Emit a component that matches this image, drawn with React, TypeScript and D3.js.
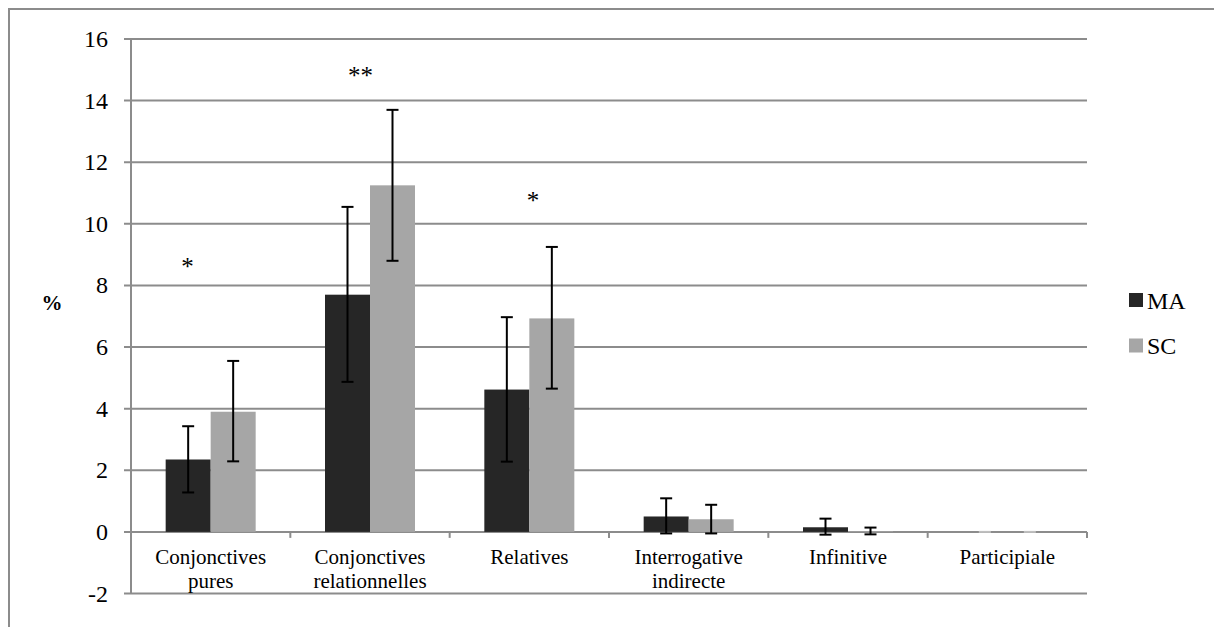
import React from 'react';
import * as d3 from 'd3';

const categories = [
  ['Conjonctives', 'pures'],
  ['Conjonctives', 'relationnelles'],
  ['Relatives'],
  ['Interrogative', 'indirecte'],
  ['Infinitive'],
  ['Participiale'],
];
const seriesNames = ['MA', 'SC'];
const maValues = [2.35, 7.7, 4.62, 0.5, 0.15, 0];
const scValues = [3.9, 11.25, 6.93, 0.41, 0.02, 0];
const maLow = [1.28, 4.87, 2.28, -0.05, -0.09, 0];
const maHigh = [3.43, 10.55, 6.97, 1.09, 0.43, 0];
const scLow = [2.29, 8.8, 4.65, -0.05, -0.08, 0];
const scHigh = [5.55, 13.7, 9.25, 0.88, 0.14, 0];
// significance marks, level in % and offset from group centre (fraction of band)
const stars = ['*', '**', '*', '', '', ''];
const starLevels = [8.73, 14.93, 10.88, 0, 0, 0];
const starOffsets = [-0.145, -0.06, 0.023, 0, 0, 0];
const yTicks = [-2, 0, 2, 4, 6, 8, 10, 12, 14, 16];
const colors = ['#262626', '#a6a6a6'];

const W = 1214;
const H = 627;
const left = 131;
const right = 1087;
const font = "'Liberation Serif', 'DejaVu Serif', serif";
const grid = '#8c8c8c';

export default function App() {
  const y = d3.scaleLinear().domain([-2, 16]).range([593.5, 39]);
  const x = d3.scaleBand<number>().domain(d3.range(categories.length)).range([left, right]);
  const inner = d3.scaleBand<number>().domain([0, 1]).range([0, 90]);
  const groupOff = (x.bandwidth() - 90) / 2;
  const series = [
    { vals: maValues, lo: maLow, hi: maHigh },
    { vals: scValues, lo: scLow, hi: scHigh },
  ];
  const y0 = y(0);

  return (
    <svg
      width={W}
      height={H}
      style={{ position: 'absolute', left: 0, top: 0, background: '#fff' }}
      fontFamily={font}
    >
      <rect x={9} y={9} width={W + 10} height={H + 10} fill="none" stroke={grid} strokeWidth={2} />
      {yTicks.map((t) => (
        <g key={t}>
          <line x1={124} x2={right} y1={y(t)} y2={y(t)} stroke={grid} strokeWidth={2} />
          <text x={108} y={y(t) + 8} textAnchor="end" fontSize={24}>
            {t}
          </text>
        </g>
      ))}
      <line x1={left} x2={left} y1={y(16)} y2={y(-2)} stroke={grid} strokeWidth={2} />
      {d3.range(categories.length + 1).map((i) => {
        const xx = i < categories.length ? x(i)! : right;
        return <line key={i} x1={xx} x2={xx} y1={y0} y2={y0 + 6} stroke={grid} strokeWidth={2} />;
      })}
      {categories.map((c, i) => {
        const bx = x(i)! + groupOff;
        const mid = x(i)! + x.bandwidth() / 2;
        return (
          <g key={i}>
            {series.map((s, k) => {
              const v = s.vals[i];
              const xx = bx + inner(k)!;
              const w = inner.bandwidth();
              const cx = xx + w / 2;
              return (
                <g key={k}>
                  {v > 0 ? (
                    <rect x={xx} y={y(v)} width={w} height={y0 - y(v)} fill={colors[k]} />
                  ) : (
                    <line x1={cx - 6} x2={cx + 6} y1={y0} y2={y0} stroke="#bfbfbf" strokeWidth={2} />
                  )}
                  {s.hi[i] !== s.lo[i] && (
                    <g stroke="#000" strokeWidth={2}>
                      <line x1={cx} x2={cx} y1={y(s.lo[i])} y2={y(s.hi[i])} />
                      <line x1={cx - 6} x2={cx + 6} y1={y(s.lo[i])} y2={y(s.lo[i])} />
                      <line x1={cx - 6} x2={cx + 6} y1={y(s.hi[i])} y2={y(s.hi[i])} />
                    </g>
                  )}
                </g>
              );
            })}
            {stars[i] && (
              <text
                x={mid + starOffsets[i] * x.bandwidth()}
                y={y(starLevels[i]) + 12}
                textAnchor="middle"
                fontSize={25}
              >
                {stars[i]}
              </text>
            )}
            {c.map((line, j) => (
              <text key={j} x={mid} y={564 + j * 24} textAnchor="middle" fontSize={21}>
                {line}
              </text>
            ))}
          </g>
        );
      })}
      <text x={52} y={310} textAnchor="middle" fontSize={21} fontWeight="bold">
        %
      </text>
      {seriesNames.map((n, k) => (
        <g key={n}>
          <rect x={1129} y={293 + k * 45.5} width={14} height={14} fill={colors[k]} />
          <text x={1147} y={308.5 + k * 45.5} fontSize={24}>
            {n}
          </text>
        </g>
      ))}
    </svg>
  );
}
